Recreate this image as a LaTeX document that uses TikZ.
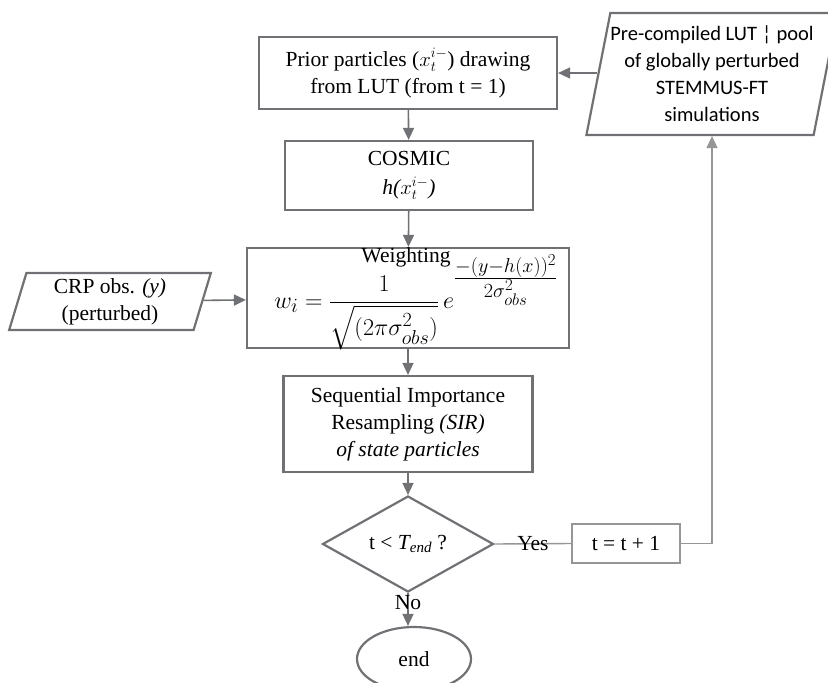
\documentclass[tikz,border=0pt]{standalone}
\usepackage{amsmath}
\usepackage{graphicx}
\usepackage{fontspec}
\setmainfont{Liberation Serif}
\newfontfamily\sansbody{Carlito}
\usepackage{tikz}
\usetikzlibrary{shapes.geometric, arrows.meta, positioning}
\definecolor{linegray}{RGB}{112, 113, 117}
\definecolor{softgray}{RGB}{150, 150, 153}

\begin{document}
\begin{tikzpicture}[x=1pt, y=-1pt,
    box/.style={draw=linegray, line width=2.2pt, align=center, inner sep=0pt,
        font=\fontsize{21.5}{27}\selectfont},
    slanted/.style={box, trapezium, trapezium stretches=true,
        trapezium left angle=76, trapezium right angle=104},
    txt/.style={align=center, inner sep=0pt, font=\fontsize{21.5}{27}\selectfont},
    arrow/.style={draw=linegray, line width=1.6pt, -{Triangle[length=12pt, width=11pt]}},
    thin/.style={draw=softgray, line width=1.4pt}
]
    \useasboundingbox (0,0) rectangle (828,683);

    % Main column
    \node[box, minimum width=298, minimum height=72] (prior) at (408,73)
        {Prior particles ($x_t^{i-}$) drawing\\from LUT (from t = 1)};
    \node[box, minimum width=248, minimum height=69] (cosmic) at (409,175.5)
        {COSMIC\\[2pt]{\itshape h(}$x_t^{i-}${\itshape )}};
    \node[box, minimum width=322, minimum height=100] (weight) at (408,298) {};
    \node[txt] (wtitle) at (406,257) {Weighting};
    \node[txt, font=\fontsize{24.88}{30}\selectfont] (wformula) at (416,302)
        {\scalebox{0.97}{$w_i=\dfrac{1}{\sqrt{(2\pi\sigma_{obs}^2)}}\,
          e^{\frac{\scriptstyle -(y-h(x))^2}{\scriptstyle 2\sigma_{obs}^2}}$}};
    \node[box, minimum width=249, minimum height=96] (sir) at (408,424)
        {Sequential Importance\\Resampling \textit{(SIR)}\\\textit{of state particles}};
    \node[box, diamond, minimum width=171, minimum height=96] (dec) at (408,544)
        {t < {\itshape T\textsubscript{end}} ?};
    \node[box, ellipse, minimum width=114, minimum height=64] (stop) at (414,659) {end};

    % Inputs
    \node[slanted, minimum width=235, minimum height=122] (lut) at (712,74)
        {\sansbody\fontsize{20.5}{27}\selectfont Pre-compiled LUT ¦ pool\\
         \sansbody\fontsize{20.5}{27}\selectfont of globally perturbed\\
         \sansbody\fontsize{20.5}{27}\selectfont STEMMUS-FT\\
         \sansbody\fontsize{20.5}{27}\selectfont simulations};
    \node[slanted, minimum width=202, minimum height=57] (crp) at (110,301.5)
        {CRP obs. \textit{(y)}\\(perturbed)};

    % Time step
    \node[box, thin, minimum width=108, minimum height=39] (step) at (626,543.5) {t = t + 1};

    % Arrows
    \draw[arrow] (lut.west |- prior.east) -- (prior.east);
    \draw[arrow] (prior) -- (cosmic);
    \draw[arrow] (cosmic) -- (weight);
    \draw[arrow] (crp) -- (weight);
    \draw[arrow] (weight) -- (sir);
    \draw[arrow] (sir) -- (dec);
    \draw[arrow] (dec.south) -- node[txt, pos=0.3] {No} (dec.south |- stop.north);
    \draw[thin] (dec.east) -- node[txt] {Yes} (step.west);
    \draw[thin, -{Triangle[length=12pt, width=11pt]}] (step.east) -| (lut.south);
\end{tikzpicture}
\end{document}
